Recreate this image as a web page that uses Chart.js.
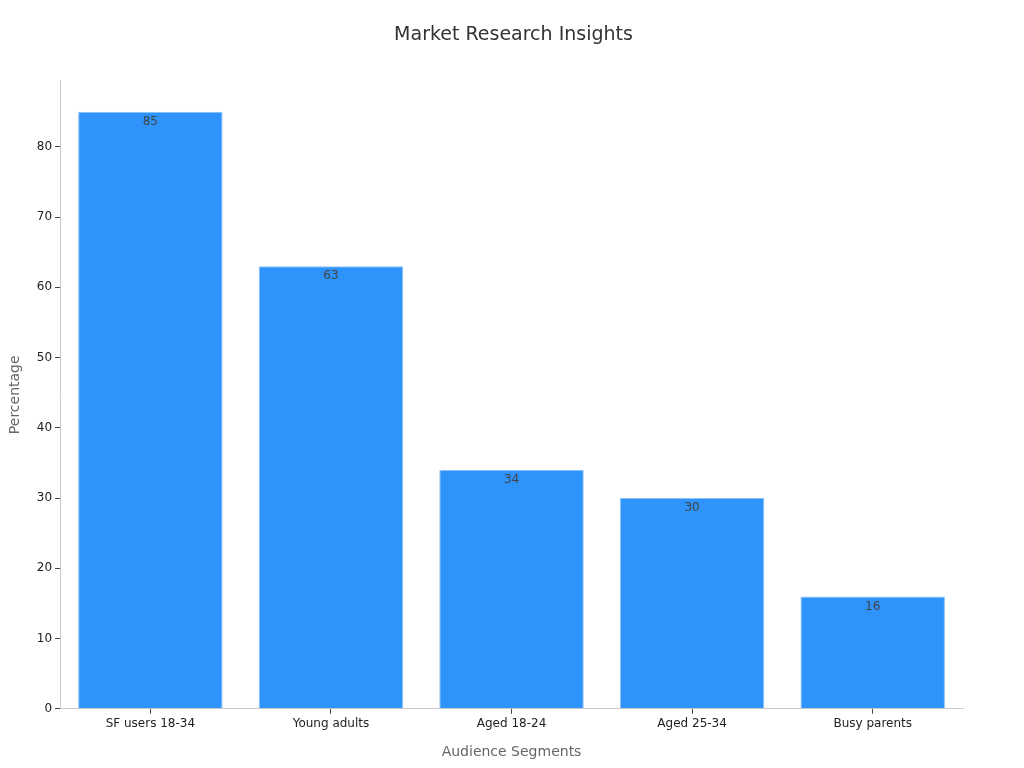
<!DOCTYPE html>
<html lang="en">
<head>
  <meta charset="UTF-8">
  <title>Market Research Insights</title>
  <script src="https://cdn.jsdelivr.net/npm/chart.js"></script>
  <style>
    html, body { margin: 0; padding: 0; background: #fff; }
    #wrap { width: 1024px; height: 768px; }
  </style>
</head>
<body>
  <div id="wrap"><canvas id="barChart" width="1024" height="768"></canvas></div>

  <script>
    const segments = ['SF users 18-34', 'Young adults', 'Aged 18-24', 'Aged 25-34', 'Busy parents'];
    const percentages = [85, 63, 34, 30, 16];

    // value labels just inside the top of each bar
    const barLabels = {
      id: 'barLabels',
      afterDatasetsDraw(chart) {
        const ctx = chart.ctx;
        const meta = chart.getDatasetMeta(0);
        ctx.save();
        ctx.font = '12px "DejaVu Sans"';
        ctx.fillStyle = '#444';
        ctx.textAlign = 'center';
        ctx.textBaseline = 'middle';
        meta.data.forEach((bar, i) => {
          ctx.fillText(percentages[i], bar.x, bar.y + 10);
        });
        ctx.restore();
      }
    };

    Chart.defaults.font.family = '"DejaVu Sans", sans-serif';

    new Chart(document.getElementById('barChart').getContext('2d'), {
      type: 'bar',
      data: {
        labels: segments,
        datasets: [{
          data: percentages,
          backgroundColor: '#2E93FA',
          borderColor: '#8cc1f7',
          borderWidth: 1,
          barPercentage: 0.8,
          categoryPercentage: 1.0
        }]
      },
      options: {
        responsive: false,
        animation: false,
        layout: { padding: { left: 3, right: 0, top: 0, bottom: 3 } },
        plugins: {
          legend: { display: false },
          tooltip: { enabled: false },
          title: {
            display: true,
            text: 'Market Research Insights',
            color: '#333',
            font: { size: 19, weight: 'normal' },
            padding: { top: 24, bottom: 34 }
          }
        },
        scales: {
          x: {
            grid: { display: true, offset: false, drawOnChartArea: false, drawTicks: true, tickLength: 5, color: '#444' },
            border: { display: true, color: '#ccc' },
            ticks: { color: '#222', font: { size: 12 }, padding: 3 },
            title: { display: true, text: 'Audience Segments', color: '#666', font: { size: 14 }, padding: { top: 10 } }
          },
          y: {
            min: 0,
            max: 89.4,
            afterBuildTicks(scale) {
              scale.ticks = scale.ticks.filter(t => t.value % 10 === 0);
            },
            grid: { display: true, drawOnChartArea: false, drawTicks: true, tickLength: 5, color: '#444' },
            border: { display: true, color: '#ccc' },
            ticks: { stepSize: 10, color: '#222', font: { size: 12 }, padding: 3 },
            title: { display: true, text: 'Percentage', color: '#666', font: { size: 14 }, padding: { bottom: 10 } }
          },
          // empty right margin so the title stays centred on the canvas
          spacer: {
            type: 'linear',
            position: 'right',
            display: true,
            grid: { display: false },
            border: { display: false },
            ticks: { display: false },
            afterFit(scale) { scale.width = 61; }
          }
        }
      },
      plugins: [barLabels]
    });
  </script>
</body>
</html>
